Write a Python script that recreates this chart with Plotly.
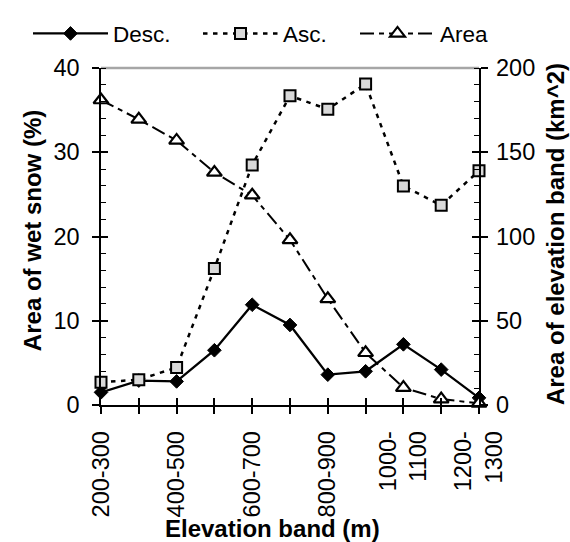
import plotly.graph_objects as go

# ---- data ----
bands = ["200-300", "300-400", "400-500", "500-600", "600-700", "700-800",
         "800-900", "900-1000", "1000-1100", "1100-1200", "1200-1300"]
band_ticktext = ["200-300", "", "400-500", "", "600-700", "",
                 "800-900", "", "1000-<br>1100", "", "1200-<br>1300"]
desc_pct = [1.5, 2.9, 2.8, 6.5, 11.9, 9.5, 3.6, 4.0, 7.2, 4.2, 0.85]
asc_pct = [2.7, 3.0, 4.45, 16.2, 28.5, 36.7, 35.1, 38.1, 26.0, 23.7, 27.8]
area_km2 = [181, 169.5, 157, 138, 124.5, 98, 63, 31, 10.3, 3.5, 1.0]

left_range = [0, 40]
right_range = [0, 200]

FONT = "Arial, Liberation Sans, sans-serif"
W, H = 570, 542
L, R, T, B = 101, 51, 60, 137
PW, PH = W - L - R, H - T - B
PLOT_RIGHT = 479
XDOM = (PLOT_RIGHT - L) / PW


def px_x(p):
    return (p - L) / PW


def px_y(p):
    return (H - B - p) / PH


fig = go.Figure()

fig.add_trace(go.Scatter(
    x=bands, y=desc_pct, name="Desc.", mode="lines+markers",
    line=dict(color="black", width=2.3),
    marker=dict(symbol="diamond", size=10.5, color="black",
                line=dict(color="black", width=1)),
    cliponaxis=False, legend="legend"))

fig.add_trace(go.Scatter(
    x=bands, y=asc_pct, name="Asc.", mode="lines+markers",
    line=dict(color="black", width=2.5, dash="4.5px,5.5px"),
    marker=dict(symbol="square", size=11, color="#d9d9d9",
                line=dict(color="black", width=2)),
    cliponaxis=False, legend="legend2"))

fig.add_trace(go.Scatter(
    x=bands, y=area_km2, name="Area", mode="lines+markers", yaxis="y2",
    line=dict(color="black", width=2, dash="14px,5px,5px,5px"),
    marker=dict(symbol="triangle-up", size=13, color="white",
                line=dict(color="black", width=2.2)),
    cliponaxis=False, legend="legend3"))

# helper (empty) traces so the overlay axes (extra ticks / right labels) are drawn
for ya in ["y3", "y4", "y5"]:
    fig.add_trace(go.Scatter(x=[None], y=[None], yaxis=ya, showlegend=False, hoverinfo="skip"))
fig.add_trace(go.Scatter(x=[None], y=[None], xaxis="x2", showlegend=False, hoverinfo="skip"))

axis_common = dict(showgrid=False, zeroline=False, tickcolor="black", tickwidth=1.5)

fig.update_layout(
    width=W, height=H,
    margin=dict(l=L, r=R, t=T, b=B),
    plot_bgcolor="white", paper_bgcolor="white",
    font=dict(family=FONT, size=23.5, color="black"),
    xaxis=dict(type="category", categoryorder="array", categoryarray=bands,
               domain=[0, XDOM],
               range=[0, len(bands) - 1], tickmode="array", tickvals=bands,
               ticktext=band_ticktext, tickangle=-90, ticks="outside", ticklen=7,
               showline=True, linecolor="black", linewidth=1.5,
               ticklabelstandoff=8, **axis_common),
    xaxis2=dict(overlaying="x", anchor="y", side="bottom", range=[0, len(bands) - 1],
                dtick=1, ticks="inside", ticklen=7, showticklabels=False,
                showline=False, **axis_common),
    yaxis=dict(range=left_range, dtick=10, ticks="outside", ticklen=7,
               minor=dict(dtick=2, ticks="inside", ticklen=5, tickcolor="black", tickwidth=1.2),
               showline=True, linecolor="black", linewidth=1.5,
               ticklabelstandoff=8, **axis_common),
    yaxis3=dict(overlaying="y", anchor="x", side="left", range=left_range, dtick=10,
                ticks="inside", ticklen=7, showticklabels=False, showline=False,
                **axis_common),
    yaxis2=dict(overlaying="y", anchor="x", side="right", range=right_range, dtick=50,
                ticks="outside", ticklen=7, showticklabels=False,
                minor=dict(dtick=10, ticks="inside", ticklen=5, tickcolor="black", tickwidth=1.2),
                showline=True, linecolor="black", linewidth=1.5,
                **axis_common),
    yaxis4=dict(overlaying="y", anchor="x", side="right", range=right_range, dtick=50,
                ticks="inside", ticklen=7, showticklabels=False, showline=False,
                **axis_common),
    # carries the right-hand tick labels, a little further out than the axis line
    yaxis5=dict(overlaying="y", anchor="free", position=px_x(495), side="right",
                range=right_range, dtick=50, ticks="", showticklabels=True,
                showline=False, **axis_common),
    showlegend=True,
)

leg_common = dict(orientation="h", itemwidth=75, yanchor="middle", y=px_y(25),
                  xanchor="left", font=dict(family=FONT, size=22.5, color="black"),
                  bgcolor="rgba(0,0,0,0)", borderwidth=0, itemclick=False)
fig.update_layout(
    legend=dict(x=px_x(28), **leg_common),
    legend2=dict(x=px_x(198), **leg_common),
    legend3=dict(x=px_x(355), **leg_common),
)

# plot-area top border (grey)
fig.add_shape(type="line", xref="paper", yref="paper", x0=0, x1=XDOM, y0=1, y1=1,
              line=dict(color="#a6a6a6", width=2.5), layer="below")

title_font = dict(family=FONT, size=24, color="black", weight="bold")
fig.add_annotation(text="Elevation band (m)", xref="paper", yref="paper",
                   x=px_x(272.5), y=px_y(531), xanchor="center", yanchor="middle",
                   showarrow=False, font=title_font)
fig.add_annotation(text="Area of wet snow (%)", xref="paper", yref="paper",
                   x=px_x(32), y=px_y(227), xanchor="center", yanchor="middle",
                   textangle=-90, showarrow=False, font=title_font)
fig.add_annotation(text="Area of elevation band (km^2)", xref="paper", yref="paper",
                   x=px_x(555), y=px_y(230), xanchor="center", yanchor="middle",
                   textangle=-90, showarrow=False, font=title_font)

fig.write_html("out.html")
